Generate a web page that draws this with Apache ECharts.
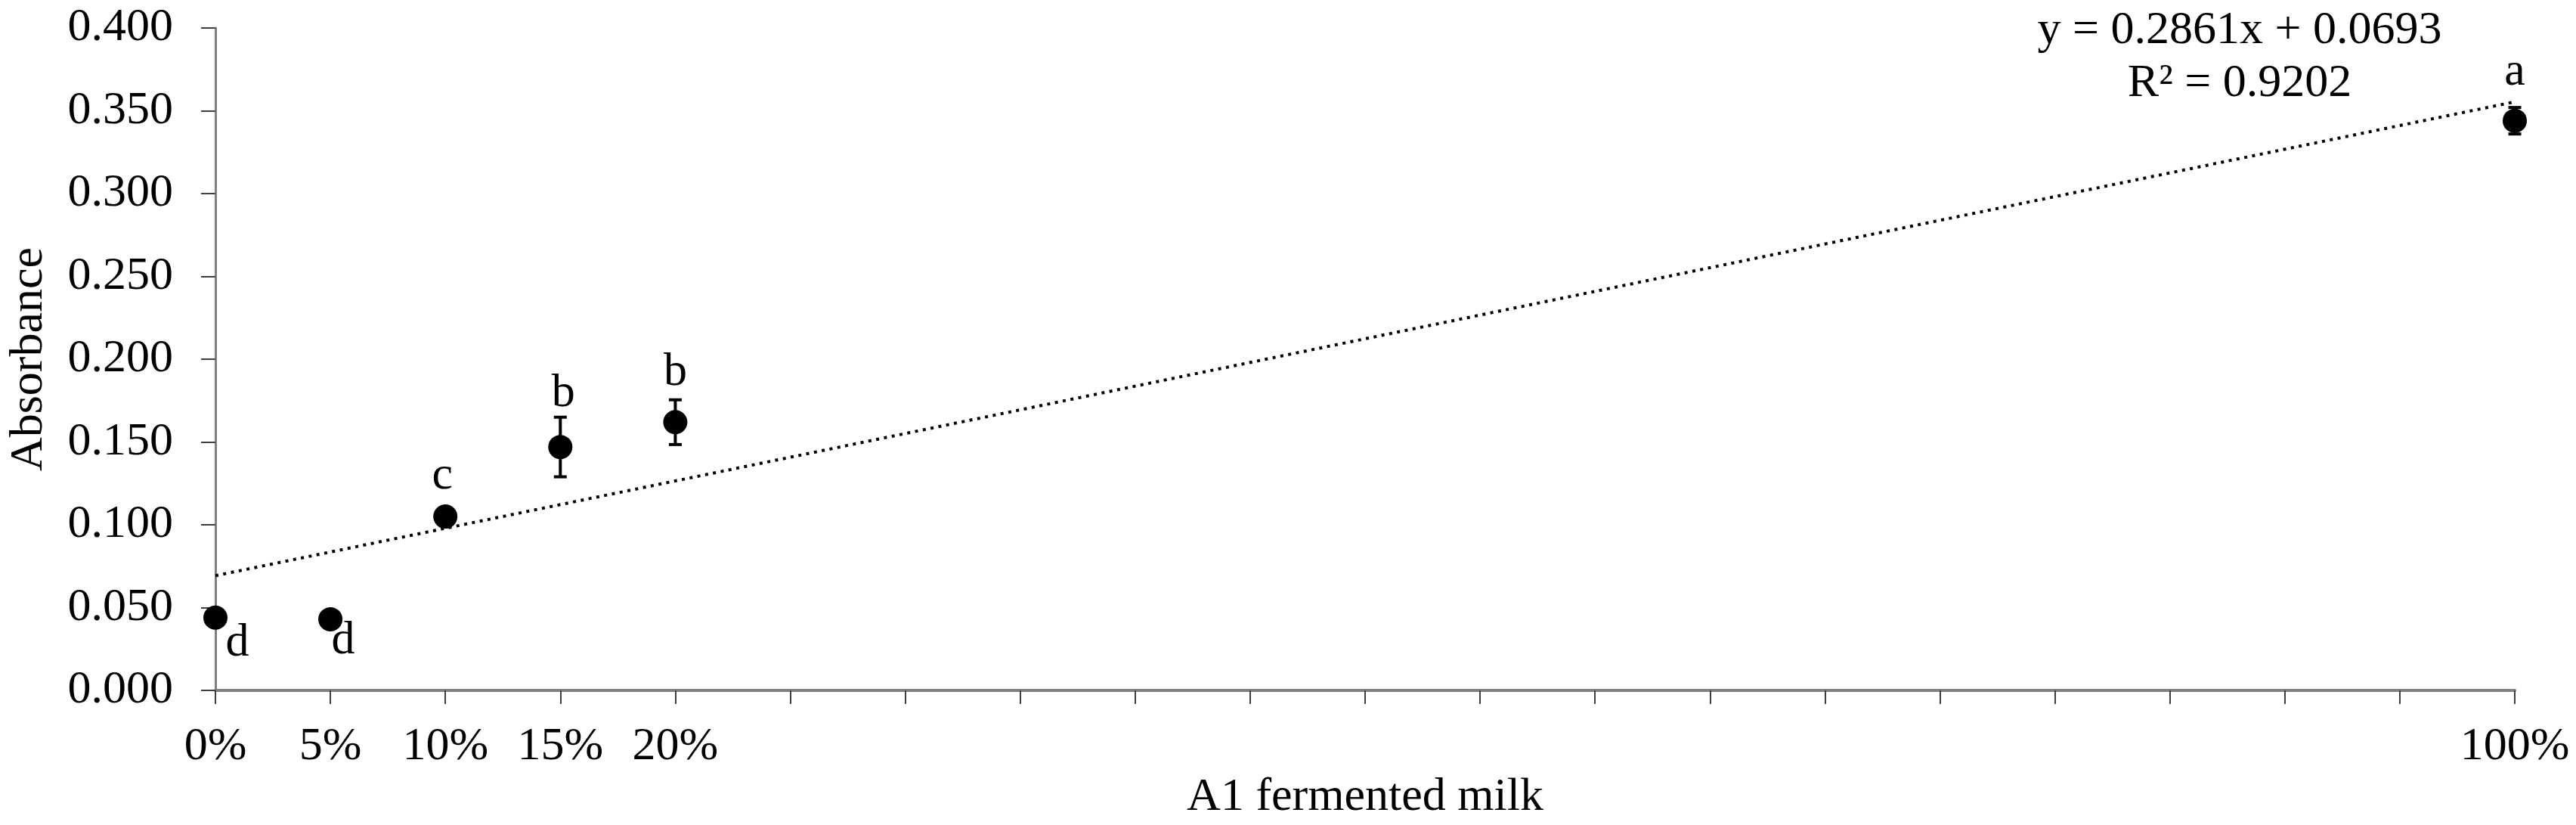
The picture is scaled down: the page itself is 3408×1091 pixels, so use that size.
<!DOCTYPE html>
<html>
<head>
<meta charset="utf-8">
<script src="https://cdn.jsdelivr.net/npm/echarts@6/dist/echarts.min.js"></script>
<style>
  html, body {margin: 0; padding: 0; background: #fff;}
  #chart {width: 3408px; height: 1091px;}
</style>
</head>
<body>
<div id="chart"></div>
<script>
// data
const doseX = [0, 0.05, 0.10, 0.15, 0.20, 1.00];
const absorbance = [0.044, 0.043, 0.105, 0.147, 0.162, 0.344];
const absorbanceSd = [0.003, 0.003, 0.003, 0.018, 0.0135, 0.008];
const letters = ['d', 'd', 'c', 'b', 'b', 'a'];
const trendX = [0, 1];
const trendY = [0.0693, 0.3554];
const xTickValues = [0, 0.05, 0.10, 0.15, 0.20, 1.00];
const xTickLabels = ['0%', '5%', '10%', '15%', '20%', '100%'];
const equationText = 'y = 0.2861x + 0.0693';
const r2Text = 'R\u00b2 = 0.9202';

// where each letter sits relative to its point (px)
const letterOffsets = [[29, 34], [17, 29], [-4, -53], [4, -70], [0, -66], [0, -64]];

const FONT = '"Liberation Serif", "Times New Roman", serif';
const FS = 62;

const chart = echarts.init(document.getElementById('chart'));

const points = doseX.map((x, i) => ({
  value: [x, absorbance[i]],
  label: {
    show: true,
    position: 'inside',
    formatter: letters[i],
    offset: letterOffsets[i],
    fontFamily: FONT, fontSize: FS, color: '#000'
  }
}));

const option = {
  animation: false,
  backgroundColor: '#fff',
  grid: {left: 284, right: 81, top: 37, bottom: 176},
  xAxis: {
    type: 'value',
    min: 0, max: 1, interval: 0.05,
    name: 'A1 fermented milk',
    nameLocation: 'middle',
    nameGap: 110,
    nameTextStyle: {fontFamily: FONT, fontSize: FS, color: '#000'},
    axisLine: {lineStyle: {color: '#808080', width: 4}},
    axisTick: {show: true, length: 18, lineStyle: {color: '#404040', width: 2}},
    axisLabel: {
      margin: 44,
      fontFamily: FONT, fontSize: FS, color: '#000',
      showMinLabel: true, showMaxLabel: true,
      formatter: function (v) {
        for (let i = 0; i < xTickValues.length; i++) {
          if (Math.abs(v - xTickValues[i]) < 1e-6) return xTickLabels[i];
        }
        return '';
      }
    },
    splitLine: {show: false}
  },
  yAxis: {
    type: 'value',
    min: 0, max: 0.4, interval: 0.05,
    name: 'Absorbance',
    nameLocation: 'middle',
    nameGap: 215,
    nameTextStyle: {fontFamily: FONT, fontSize: FS, color: '#000'},
    axisLine: {show: true, lineStyle: {color: '#808080', width: 3}},
    axisTick: {show: true, length: 19, lineStyle: {color: '#404040', width: 2}},
    axisLabel: {
      margin: 56,
      fontFamily: FONT, fontSize: FS, color: '#000',
      formatter: v => v.toFixed(3)
    },
    splitLine: {show: false}
  },
  graphic: [
    {type: 'text', x: 2963, y: 41,
      style: {text: equationText, font: FS + 'px ' + FONT, fill: '#000', textAlign: 'center', textVerticalAlign: 'middle'}},
    {type: 'text', x: 2963, y: 111,
      style: {text: r2Text, font: FS + 'px ' + FONT, fill: '#000', textAlign: 'center', textVerticalAlign: 'middle'}}
  ],
  series: [
    {
      name: 'trend',
      type: 'line',
      data: trendX.map((x, i) => [x, trendY[i]]),
      symbol: 'none',
      lineStyle: {color: '#000', width: 4, type: [4, 6.5]},
      z: 2
    },
    {
      name: 'sd',
      type: 'custom',
      data: doseX.map((x, i) => [x, absorbance[i] - absorbanceSd[i], absorbance[i] + absorbanceSd[i]]),
      renderItem: function (params, api) {
        const lo = api.coord([api.value(0), api.value(1)]);
        const hi = api.coord([api.value(0), api.value(2)]);
        const half = 8.5;
        const st = {stroke: '#000', lineWidth: 4};
        return {
          type: 'group',
          children: [
            {type: 'line', shape: {x1: hi[0], y1: hi[1], x2: lo[0], y2: lo[1]}, style: st},
            {type: 'line', shape: {x1: hi[0] - half, y1: hi[1], x2: hi[0] + half, y2: hi[1]}, style: st},
            {type: 'line', shape: {x1: lo[0] - half, y1: lo[1], x2: lo[0] + half, y2: lo[1]}, style: st}
          ]
        };
      },
      z: 3
    },
    {
      name: 'absorbance',
      type: 'scatter',
      data: points,
      symbol: 'circle',
      symbolSize: 32,
      itemStyle: {color: '#000', opacity: 1},
      z: 4
    }
  ]
};

chart.setOption(option);
</script>
</body>
</html>
